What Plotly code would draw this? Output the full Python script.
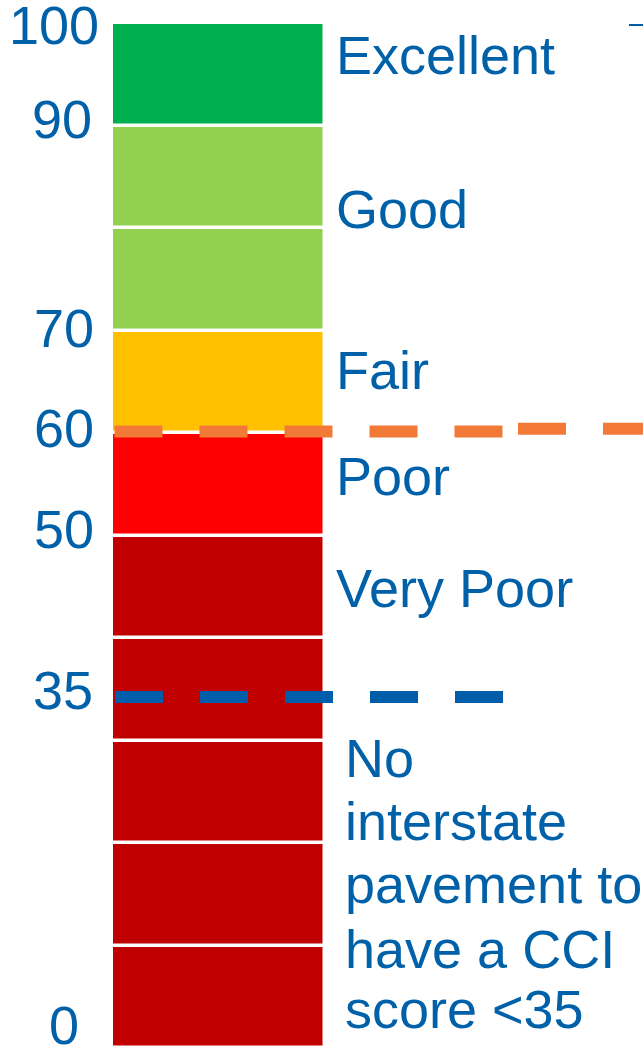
import numpy as np
import plotly.graph_objects as go

# ---- data ----
segment_sizes = [10, 10, 10, 10, 10, 10, 10, 10, 10, 10]          # CCI bands, bottom to top
segment_colors = ["#C00000", "#C00000", "#C00000", "#C00000", "#C00000",
                  "#FF0000", "#FFC000", "#92D050", "#92D050", "#00B050"]
tick_values = [100, 90, 70, 60, 50, 35, 0]
tick_labels = ["100", "90", "70", "60", "50", "35", "0"]
category_labels = ["Excellent", "Good", "Fair", "Poor", "Very Poor"]
category_label_values = [96.9, 81.9, 66.2, 55.85, 44.9]
note_lines = ["No", "interstate", "pavement to", "have a CCI", "score <35"]
note_line_values = [28.35, 22.2, 16.05, 9.7, 3.85]
interstate_threshold = 60.2      # orange dashed line (as drawn)
minimum_threshold = 34.3         # blue dashed line (as drawn)

# ---- styling / layout constants ----
W, H = 643, 1049
BLUE_TEXT = "#0061A9"
BLUE_LINE = "#005DAA"
ORANGE = "#F37A36"
FONT = "Liberation Sans, Arial, sans-serif"
FS = 54
bar_center, bar_width = 218.5, 212.5

bases = np.concatenate([[0], np.cumsum(segment_sizes)[:-1]])

fig = go.Figure()
fig.add_trace(go.Bar(
    x=[bar_center] * len(segment_sizes), y=segment_sizes, base=bases,
    width=[bar_width] * len(segment_sizes),
    marker=dict(color=segment_colors, line=dict(color="white", width=3.5)),
    hoverinfo="skip", showlegend=False))

# orange threshold line (two drawn pieces as in the picture)
fig.add_trace(go.Scatter(x=[114.5, 504], y=[interstate_threshold] * 2, mode="lines",
                         line=dict(color=ORANGE, width=12, dash="48px,37px"),
                         hoverinfo="skip", showlegend=False))
fig.add_trace(go.Scatter(x=[518, 650], y=[interstate_threshold + 0.25] * 2, mode="lines",
                         line=dict(color=ORANGE, width=12, dash="48px,37px"),
                         hoverinfo="skip", showlegend=False))
# blue threshold line
fig.add_trace(go.Scatter(x=[115, 504], y=[minimum_threshold] * 2, mode="lines",
                         line=dict(color=BLUE_LINE, width=12, dash="48px,37px"),
                         hoverinfo="skip", showlegend=False))
# small fragment at top right
fig.add_trace(go.Scatter(x=[629, 650], y=[99.85, 99.85], mode="lines",
                         line=dict(color=BLUE_LINE, width=2),
                         hoverinfo="skip", showlegend=False))

annotations = []
tick_nudge = {"100": (101, -2), "90": (94, 7), "70": (96, 3), "60": (96, 5),
              "50": (96, 7), "35": (95, 0), "0": (81, 23)}
for v, t in zip(tick_values, tick_labels):
    xr, ys = tick_nudge[t]
    annotations.append(dict(x=xr, y=v, text=t, showarrow=False, xanchor="right",
                            yanchor="middle", yshift=ys,
                            font=dict(family=FONT, size=FS, color=BLUE_TEXT)))
for t, v in zip(category_labels, category_label_values):
    annotations.append(dict(x=334, y=v, text=t, showarrow=False, xanchor="left",
                            yanchor="middle",
                            font=dict(family=FONT, size=FS, color=BLUE_TEXT)))
for t, v in zip(note_lines, note_line_values):
    annotations.append(dict(x=343, y=v, text=t, showarrow=False, xanchor="left",
                            yanchor="middle",
                            font=dict(family=FONT, size=FS, color=BLUE_TEXT)))

fig.update_layout(
    width=W, height=H, margin=dict(l=0, r=0, t=0, b=0, pad=0),
    paper_bgcolor="white", plot_bgcolor="white",
    xaxis=dict(range=[0, W], visible=False, fixedrange=True),
    yaxis=dict(range=[-0.05, 102.29], visible=False, fixedrange=True),
    annotations=annotations, bargap=0, showlegend=False,
)

fig.write_html("out.html", config={"displayModeBar": False},
               post_script="document.body.style.margin='0';document.body.style.overflow='hidden';")
